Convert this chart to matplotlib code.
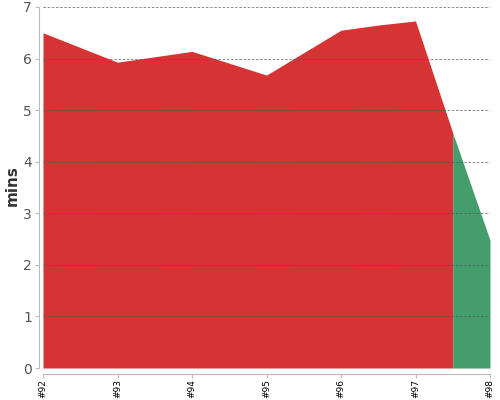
import matplotlib
matplotlib.use("Agg")
import matplotlib.pyplot as plt

# build numbers and times (mins)
red_x = [92, 93, 94, 95, 96, 96.5, 97, 97.5]
red_y = [6.5, 5.93, 6.14, 5.68, 6.55, 6.65, 6.73, 4.56]
green_x = [97.5, 98]
green_y = [4.56, 2.48]

tick_pos = [92, 93, 94, 95, 96, 97, 98]
tick_labels = ["#92", "#93", "#94", "#95", "#96", "#97", "#98"]

fig = plt.figure(figsize=(5, 4), dpi=100)
ax = fig.add_axes([0.086, 0.08, 0.894, 0.9025])

ax.fill_between(red_x, red_y, 0, color="#d63434", linewidth=0, zorder=1)
ax.fill_between(green_x, green_y, 0, color="#449e6c", linewidth=0, zorder=1)

ax.set_xlim(92, 98)
ax.set_ylim(0, 7)
ax.set_xticks(tick_pos)
ax.set_xticklabels(tick_labels)
ax.set_yticks(range(0, 8))
ax.tick_params(axis="y", labelsize=10, labelcolor="#555555", length=3, color="#bbbbbb", pad=2)
ax.tick_params(axis="x", labelsize=6.5, length=3, color="#bbbbbb", pad=1, labelrotation=90)

ax.yaxis.grid(True, linestyle=(0, (3, 2)), color="#555555", linewidth=0.6, alpha=0.8, zorder=3)
ax.set_axisbelow(False)

for s in ["top", "right"]:
    ax.spines[s].set_visible(False)
ax.spines["left"].set_position(("outward", 3))
ax.spines["bottom"].set_position(("outward", 4))
ax.spines["left"].set_color("#bbbbbb")
ax.spines["bottom"].set_color("#bbbbbb")

ax.set_ylabel("mins", fontsize=11, color="#333333", fontweight="bold")
ax.yaxis.set_label_coords(-0.052, 0.505)

fig.savefig("out.png", dpi=100)
